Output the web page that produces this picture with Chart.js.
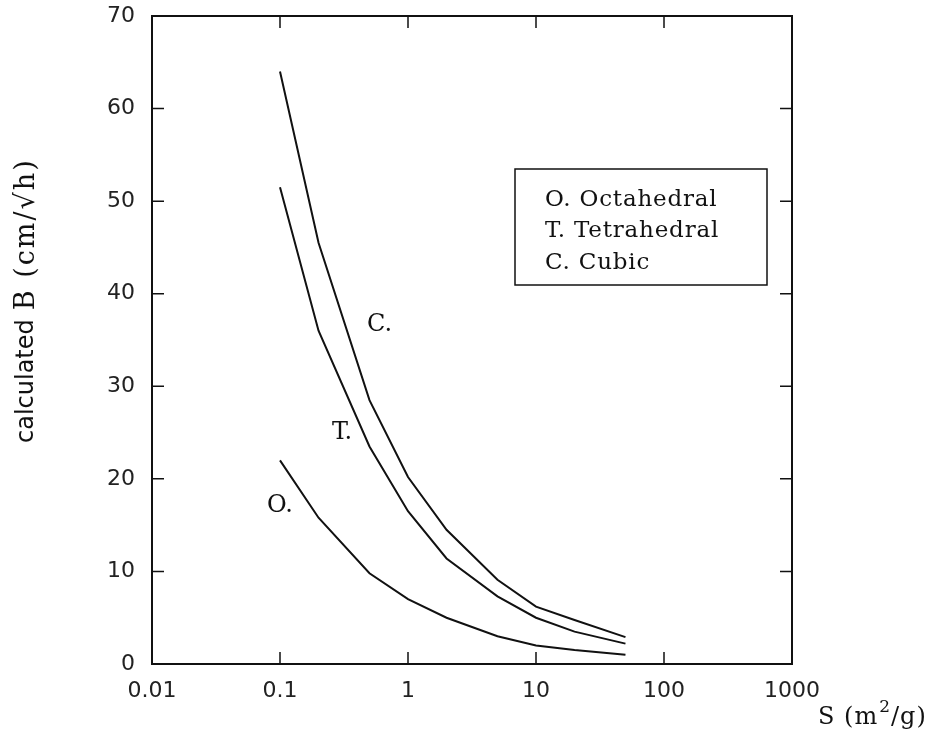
<!DOCTYPE html>
<html>
<head>
<meta charset="utf-8">
<script src="https://cdn.jsdelivr.net/npm/chart.js@4/dist/chart.umd.min.js"></script>
<style>
  html, body { margin: 0; padding: 0; background: #fff; }
  #wrap { width: 942px; height: 738px; }
</style>
</head>
<body>
<div id="wrap"><canvas id="chart" width="942" height="738"></canvas></div>
<script>
// ---- data ----
const surfaceArea = [0.1, 0.2, 0.5, 1, 2, 5, 10, 20, 50];          // S (m2/g)
const octahedral  = [22, 15.8, 9.8, 7.0, 5.0, 3.0, 2.0, 1.5, 1.0];
const tetrahedral = [51.5, 36, 23.5, 16.5, 11.4, 7.3, 5.0, 3.5, 2.2];
const cubic       = [64, 45.5, 28.5, 20.2, 14.5, 9.1, 6.2, 4.75, 2.9];

const xTicks = [0.01, 0.1, 1, 10, 100, 1000];
const xTickLabels = ['0.01', '0.1', '1', '10', '100', '1000'];
const yTicks = [0, 10, 20, 30, 40, 50, 60, 70];

const legendLines = ['O. Octahedral', 'T. Tetrahedral', 'C. Cubic'];
// curve tags, placed in data coordinates [x, y]
const curveTags = [
  { text: 'O.', at: [0.1, 17.1] },
  { text: 'T.', at: [0.305, 25.0] },
  { text: 'C.', at: [0.6, 36.6] }
];

function toPoints(ys) {
  return surfaceArea.map((x, i) => ({ x: x, y: ys[i] }));
}

const lineStyle = { borderColor: '#111', borderWidth: 2, pointRadius: 0, tension: 0, fill: false };

// ---- frame, inward ticks, legend box, tags and titles ----
const decorations = {
  id: 'decorations',
  afterDatasetsDraw(chart) {
    const ctx = chart.ctx;
    const a = chart.chartArea;
    const xs = chart.scales.x, ys = chart.scales.y;
    const tl = 12;
    ctx.save();
    ctx.strokeStyle = '#111';
    ctx.lineWidth = 2;
    ctx.strokeRect(a.left, a.top, a.right - a.left, a.bottom - a.top);

    ctx.lineWidth = 1.5;
    ctx.beginPath();
    xTicks.forEach(v => {
      const px = xs.getPixelForValue(v);
      if (px <= a.left + 1 || px >= a.right - 1) return;
      ctx.moveTo(px, a.bottom); ctx.lineTo(px, a.bottom - tl);
      ctx.moveTo(px, a.top); ctx.lineTo(px, a.top + tl);
    });
    yTicks.forEach(v => {
      const py = ys.getPixelForValue(v);
      if (py <= a.top + 1 || py >= a.bottom - 1) return;
      ctx.moveTo(a.left, py); ctx.lineTo(a.left + tl, py);
      ctx.moveTo(a.right, py); ctx.lineTo(a.right - tl, py);
    });
    ctx.stroke();

    // legend box
    const bx = 515, by = 169, bw = 252, bh = 116;
    ctx.lineWidth = 1.5;
    ctx.strokeRect(bx, by, bw, bh);
    ctx.fillStyle = '#111';
    ctx.font = '23px "DejaVu Serif"';
    ctx.letterSpacing = '0.8px';
    ctx.textBaseline = 'middle';
    ctx.textAlign = 'left';
    legendLines.forEach((t, i) => ctx.fillText(t, bx + 30, by + 31 + i * 31.5));

    // curve tags
    ctx.font = '24px "DejaVu Serif"';
    ctx.letterSpacing = '0px';
    ctx.textAlign = 'center';
    curveTags.forEach(tag => {
      ctx.fillText(tag.text, xs.getPixelForValue(tag.at[0]), ys.getPixelForValue(tag.at[1]));
    });

    // y title: sans "calculated" + serif "B (cm/√h)"
    ctx.save();
    ctx.translate(27, 443);
    ctx.rotate(-Math.PI / 2);
    ctx.textAlign = 'left';
    ctx.textBaseline = 'middle';
    ctx.font = '24px "DejaVu Sans"';
    ctx.fillText('calculated', 0, 0);
    const w1 = ctx.measureText('calculated').width;
    ctx.font = '27px "DejaVu Serif"';
    ctx.letterSpacing = '2px';
    ctx.fillText('B (cm/\u221Ah)', w1 + 9, 0);
    ctx.restore();

    // x title with superscript
    ctx.textAlign = 'left';
    ctx.textBaseline = 'alphabetic';
    ctx.letterSpacing = '1px';
    ctx.font = '24px "DejaVu Serif"';
    let x0 = 818, yb = 724;
    ctx.fillText('S (m', x0, yb);
    x0 += ctx.measureText('S (m').width;
    ctx.font = '17px "DejaVu Serif"';
    ctx.fillText('2', x0 + 1, yb - 12);
    x0 += ctx.measureText('2').width + 1;
    ctx.font = '24px "DejaVu Serif"';
    ctx.fillText('/g)', x0, yb);
    ctx.restore();
  }
};

new Chart(document.getElementById('chart'), {
  type: 'line',
  data: {
    datasets: [
      { label: 'Octahedral', data: toPoints(octahedral), ...lineStyle },
      { label: 'Tetrahedral', data: toPoints(tetrahedral), ...lineStyle },
      { label: 'Cubic', data: toPoints(cubic), ...lineStyle }
    ]
  },
  options: {
    responsive: false,
    animation: false,
    layout: { padding: { left: 0, top: 16, right: 150, bottom: 0 } },
    plugins: { legend: { display: false }, tooltip: { enabled: false } },
    scales: {
      x: {
        type: 'logarithmic',
        min: 0.01,
        max: 1000,
        afterBuildTicks: s => { s.ticks = xTicks.map(v => ({ value: v })); },
        afterFit: s => { s.height = 74; s.paddingLeft = 0; s.paddingRight = 0; },
        grid: { display: false, drawTicks: false },
        border: { display: false },
        ticks: {
          autoSkip: false,
          maxRotation: 0,
          padding: 14,
          color: '#222',
          font: { family: 'DejaVu Sans', size: 22 },
          callback: v => {
            const i = xTicks.indexOf(v);
            return i >= 0 ? xTickLabels[i] : '';
          }
        }
      },
      y: {
        min: 0,
        max: 70,
        afterBuildTicks: s => { s.ticks = yTicks.map(v => ({ value: v })); },
        afterFit: s => { s.width = 152; s.paddingTop = 0; s.paddingBottom = 0; },
        grid: { display: false, drawTicks: false },
        border: { display: false },
        ticks: {
          padding: 17,
          color: '#222',
          font: { family: 'DejaVu Sans', size: 22 }
        }
      }
    }
  },
  plugins: [decorations]
});
</script>
</body>
</html>
